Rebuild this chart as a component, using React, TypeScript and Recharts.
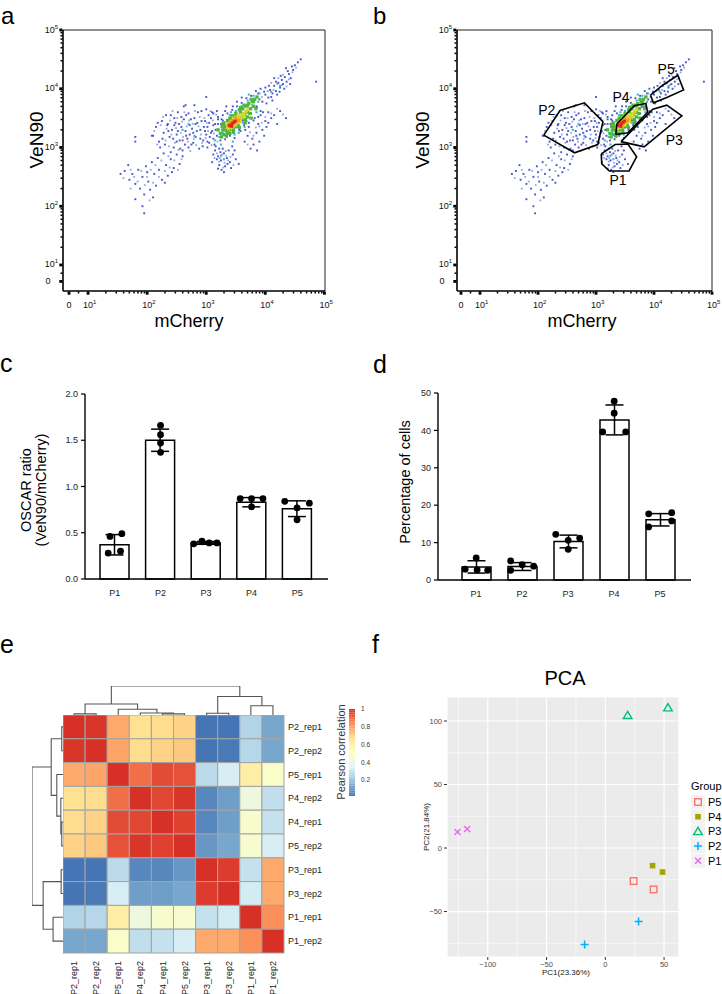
import React from "react";
import {
  ScatterChart,
  ComposedChart,
  Scatter,
  Bar,
  ErrorBar,
  XAxis,
  YAxis,
  CartesianGrid,
  ReferenceLine,
  ReferenceArea,
} from "recharts";

const FONT = "'Liberation Sans', Arial, Helvetica, sans-serif";

type Pt = [number, number];

// ---------- a / b : flow events (log10 fluorescence), grouped by density colour
const eventsBlue: Pt[] = [
  // upper-right tail
  [3.85, 3.7], [3.9, 3.82], [3.95, 3.78], [4.0, 3.9], [4.05, 3.85], [4.08, 3.98], [4.12, 3.92], [4.15, 4.05],
  [4.18, 3.96], [4.22, 4.1], [4.25, 4.02], [4.28, 4.15], [4.3, 4.08], [4.33, 4.2], [4.36, 4.12], [4.4, 4.25],
  [4.43, 4.18], [4.47, 4.32], [4.5, 4.4], [4.55, 4.45], [4.02, 3.75], [3.98, 3.95], [4.1, 3.86], [4.2, 3.9],
  [4.26, 4.22], [4.32, 4.0], [4.38, 4.3], [4.15, 4.18], [3.92, 3.62], [4.06, 4.05], [4.24, 3.95], [4.42, 4.08],
  [3.88, 3.92], [4.12, 3.8], [4.35, 4.35], [4.6, 4.5], [4.86, 4.12], [4.45, 4.38], [4.0, 4.02], [4.18, 4.12],
  // right, below the diagonal
  [3.7, 3.2], [3.78, 3.15], [3.85, 3.25], [3.9, 3.1], [3.8, 3.05], [3.95, 3.3], [3.72, 3.35], [3.88, 3.4],
  [4.0, 3.45], [3.65, 3.1], [3.75, 2.98], [3.92, 3.55], [4.05, 3.6], [3.82, 3.5], [3.98, 3.2], [4.1, 3.5],
  [3.68, 3.45], [3.86, 2.95], [4.02, 3.35], [3.76, 3.58], [4.15, 3.55], [4.25, 3.62], [4.35, 3.5], [4.05, 3.42],
  [4.2, 3.4],
  // small cluster below the core
  [3.15, 2.95], [3.2, 2.85], [3.25, 2.78], [3.3, 2.9], [3.35, 2.82], [3.22, 2.7], [3.28, 2.98], [3.4, 2.75],
  [3.18, 2.8], [3.32, 2.68], [3.45, 2.88], [3.12, 2.88], [3.38, 2.95], [3.26, 2.62], [3.42, 2.65], [3.5, 2.8],
  [3.1, 2.75], [3.24, 2.92], [3.36, 2.72], [3.3, 2.58], [3.48, 2.95], [3.16, 3.02], [3.55, 2.72], [3.2, 2.64],
  [3.44, 3.02],
  // left cloud
  [2.1, 3.2], [2.15, 3.35], [2.2, 3.1], [2.25, 3.45], [2.28, 3.25], [2.3, 3.05], [2.35, 3.4], [2.38, 3.18],
  [2.4, 3.55], [2.42, 3.3], [2.45, 3.0], [2.48, 3.42], [2.5, 3.22], [2.52, 3.6], [2.55, 3.12], [2.58, 3.35],
  [2.6, 2.95], [2.62, 3.48], [2.65, 3.28], [2.68, 3.15], [2.7, 3.58], [2.72, 3.38], [2.75, 3.05], [2.78, 3.25],
  [2.8, 3.5], [2.82, 3.18], [2.85, 3.42], [2.88, 2.98], [2.9, 3.3], [2.92, 3.62], [2.95, 3.12], [2.98, 3.45],
  [3.0, 3.22], [3.02, 3.35], [3.05, 3.08], [3.08, 3.5], [3.1, 3.28], [3.12, 3.15], [3.15, 3.4], [3.18, 3.2],
  [2.22, 3.0], [2.32, 3.55], [2.44, 3.15], [2.54, 3.4], [2.64, 3.05], [2.74, 3.48], [2.84, 3.28], [2.94, 3.02],
  [3.04, 3.55], [2.36, 3.28], [2.46, 3.5], [2.56, 2.98], [2.66, 3.2], [2.76, 3.32], [2.86, 3.6], [2.96, 3.35],
  [3.06, 3.18], [2.18, 3.42], [2.26, 3.15], [2.62, 3.7], [2.8, 3.72], [3.0, 3.65], [2.5, 3.1], [2.7, 3.0],
  [2.9, 3.15], [2.4, 2.92], [2.58, 3.52], [2.78, 3.08], [2.98, 3.28], [2.34, 3.38], [2.52, 3.28], [2.72, 3.22],
  [2.92, 3.45], [3.12, 3.58], [2.6, 3.12], [2.82, 3.4], [3.02, 3.1], [3.2, 3.48], [2.46, 3.38], [2.66, 3.55],
  [1.8, 3.18], [1.8, 3.1], [2.08, 3.2], [3.0, 3.86], [2.65, 3.72],
  // lower-left tail
  [1.55, 2.55], [1.62, 2.6], [1.7, 2.45], [1.75, 2.55], [1.8, 2.38], [1.85, 2.62], [1.88, 2.3], [1.92, 2.5],
  [1.95, 2.2], [1.98, 2.68], [2.02, 2.42], [2.05, 2.28], [2.08, 2.75], [2.12, 2.55], [2.15, 2.35], [2.18, 2.82],
  [2.2, 2.62], [2.25, 2.45], [2.28, 2.9], [2.32, 2.7], [2.35, 2.52], [2.4, 2.8], [2.45, 2.65], [2.5, 2.88],
  [2.55, 2.72], [2.6, 2.85], [1.92, 2.0], [1.8, 2.12], [1.95, 1.88], [2.1, 2.15], [2.0, 2.58], [2.3, 2.4],
  [1.68, 2.7], [2.42, 2.58],
  // between cloud and core
  [3.05, 3.42], [3.1, 3.6], [3.14, 3.05], [3.2, 3.52], [3.25, 3.4], [3.08, 3.25], [3.18, 3.62], [3.22, 2.98],
  [3.28, 3.55], [3.12, 3.38], [3.32, 3.62], [3.16, 3.3], [3.02, 3.0], [3.26, 3.48], [3.34, 3.7], [3.52, 3.78],
  [3.6, 3.85], [3.58, 3.28], [3.66, 3.3], [3.45, 3.7],
  // around the core
  [3.2, 3.4], [3.24, 3.12], [3.28, 3.46], [3.32, 3.14], [3.36, 3.58], [3.4, 3.2], [3.44, 3.64], [3.48, 3.16],
  [3.52, 3.7], [3.56, 3.3], [3.6, 3.76], [3.64, 3.38], [3.68, 3.84], [3.72, 3.42], [3.76, 3.88], [3.8, 3.46],
  [3.84, 3.96], [3.88, 3.52], [3.92, 4.0], [3.96, 3.6], [3.34, 3.32], [3.5, 3.34], [3.62, 3.46], [3.74, 3.66],
  [3.86, 3.68],
];

// faint (single) events
const eventsFaint: Pt[] = [
  [2.12, 3.28], [2.17, 3.05], [2.23, 3.38], [2.27, 3.52], [2.31, 3.12], [2.33, 3.32], [2.37, 3.02], [2.39, 3.46],
  [2.41, 3.22], [2.43, 3.62], [2.47, 3.08], [2.49, 3.33], [2.51, 3.5], [2.53, 2.96], [2.57, 3.25], [2.59, 3.44],
  [2.61, 3.18], [2.63, 3.6], [2.67, 3.36], [2.69, 3.1], [2.71, 3.46], [2.73, 2.94], [2.77, 3.4], [2.79, 3.15],
  [2.81, 3.62], [2.83, 3.04], [2.87, 3.36], [2.89, 3.52], [2.91, 3.22], [2.93, 3.08], [2.97, 3.5], [2.99, 3.16],
  [3.01, 3.42], [3.03, 3.28], [3.07, 3.62], [3.09, 3.04], [3.11, 3.46], [3.13, 3.24], [3.17, 3.56], [3.19, 3.1],
  [1.6, 2.48], [1.72, 2.62], [1.78, 2.5], [1.84, 2.42], [1.9, 2.6], [1.96, 2.36], [2.0, 2.5], [2.06, 2.62],
  [2.1, 2.4], [2.14, 2.7], [2.2, 2.5], [2.24, 2.78], [2.3, 2.6], [2.36, 2.85], [2.38, 2.66], [2.46, 2.78],
  [2.52, 2.62], [2.58, 2.8], [1.72, 2.3], [2.04, 2.1],
  [3.18, 2.9], [3.22, 2.76], [3.27, 2.88], [3.31, 2.74], [3.34, 2.86], [3.29, 2.66], [3.37, 2.78], [3.41, 2.84],
  [3.23, 2.82], [3.33, 2.94], [3.46, 2.7], [3.14, 2.82],
  [3.94, 3.86], [4.04, 3.96], [4.14, 3.98], [4.2, 4.08], [4.28, 4.06], [4.3, 4.24], [4.4, 4.16], [4.46, 4.28],
  [4.1, 4.1], [4.36, 4.04], [4.52, 4.36], [4.22, 4.18],
  [3.74, 3.26], [3.84, 3.34], [3.94, 3.42], [3.7, 3.05], [3.8, 3.2], [3.9, 3.36], [4.0, 3.52], [4.1, 3.58],
  [4.2, 3.66], [4.3, 3.56],
];

const eventsCyan: Pt[] = [
  [3.15, 3.12], [3.2, 3.3], [3.25, 3.05], [3.3, 3.4], [3.35, 3.18], [3.4, 3.55], [3.45, 3.1], [3.5, 3.62],
  [3.55, 3.25], [3.6, 3.7], [3.65, 3.35], [3.7, 3.8], [3.75, 3.5], [3.8, 3.88], [3.85, 3.6], [3.9, 3.92],
  [3.28, 3.25], [3.38, 3.45], [3.58, 3.52], [3.68, 3.62], [3.78, 3.72], [3.22, 3.18], [3.48, 3.22], [3.62, 3.42],
  [3.88, 3.78], [3.42, 3.6], [3.72, 3.9], [2.6, 3.3], [2.8, 3.2], [2.7, 3.4], [3.3, 2.8], [3.25, 2.86],
  [4.1, 3.95], [4.25, 4.05],
];

const eventsGreen: Pt[] = [
  [3.24, 3.24], [3.28, 3.3], [3.3, 3.22], [3.32, 3.36], [3.35, 3.28], [3.38, 3.4], [3.4, 3.3], [3.42, 3.48],
  [3.45, 3.36], [3.48, 3.52], [3.5, 3.4], [3.52, 3.56], [3.55, 3.46], [3.58, 3.6], [3.6, 3.5], [3.62, 3.66],
  [3.65, 3.56], [3.68, 3.7], [3.7, 3.6], [3.72, 3.75], [3.75, 3.66], [3.78, 3.78], [3.8, 3.7], [3.82, 3.82],
  [3.27, 3.36], [3.34, 3.2], [3.44, 3.54], [3.54, 3.38], [3.64, 3.72], [3.74, 3.58], [3.36, 3.46], [3.46, 3.3],
  [3.56, 3.64], [3.66, 3.48], [3.76, 3.82], [3.3, 3.3],
  [3.2, 3.3], [3.26, 3.18], [3.3, 3.42], [3.36, 3.24], [3.4, 3.5], [3.46, 3.26], [3.5, 3.58], [3.56, 3.34],
  [3.6, 3.66], [3.66, 3.42], [3.7, 3.72], [3.76, 3.5], [3.8, 3.78], [3.84, 3.66], [3.86, 3.86], [3.4, 3.24],
  [3.52, 3.36], [3.58, 3.68], [3.7, 3.52], [3.28, 3.4],
];

const eventsYellow: Pt[] = [
  [3.36, 3.34], [3.4, 3.38], [3.44, 3.36], [3.46, 3.44], [3.5, 3.46], [3.52, 3.42], [3.55, 3.52], [3.58, 3.5],
  [3.6, 3.56], [3.63, 3.58], [3.66, 3.6], [3.42, 3.44], [3.48, 3.4], [3.56, 3.48], [3.62, 3.52], [3.38, 3.32],
  [3.54, 3.56], [3.68, 3.62], [3.42, 3.34], [3.5, 3.38], [3.58, 3.44], [3.64, 3.54], [3.46, 3.5], [3.52, 3.52],
  [3.7, 3.66], [3.36, 3.4],
];

const eventsOrange: Pt[] = [[3.4, 3.42], [3.46, 3.4], [3.5, 3.5], [3.55, 3.47], [3.44, 3.46], [3.38, 3.36], [3.52, 3.44]];

const eventsRed: Pt[] = [[3.41, 3.37], [3.44, 3.41], [3.47, 3.43], [3.43, 3.36], [3.39, 3.38], [3.49, 3.45]];

// gates drawn on panel b (log10 units)
const gateP1: Pt[] = [[3.09, 2.89], [3.33, 3.05], [3.55, 3.06], [3.7, 2.84], [3.57, 2.6], [3.23, 2.6], [3.1, 2.72]];
const gateP2: Pt[] = [[2.1, 3.21], [2.38, 3.63], [2.8, 3.76], [3.12, 3.44], [3.03, 3.05], [2.63, 2.91]];
const gateP3: Pt[] = [[3.43, 3.1], [3.98, 3.65], [4.22, 3.72], [4.48, 3.54], [3.83, 3.01]];
const gateP4: Pt[] = [[3.34, 3.22], [3.36, 3.4], [3.66, 3.71], [3.86, 3.75], [3.89, 3.6], [3.55, 3.25]];
const gateP5: Pt[] = [[3.94, 3.89], [4.15, 4.06], [4.41, 4.23], [4.51, 3.98], [4.22, 3.85], [3.99, 3.76]];
const gateNames = ["P1", "P2", "P3", "P4", "P5"];
const gateLabelAt: Pt[] = [[3.38, 2.42], [2.15, 3.61], [4.35, 3.1], [3.43, 3.84], [4.21, 4.32]];

const decadeTicks = [1, 2, 3, 4, 5];
const minorMultipliers = [2, 3, 4, 5, 6, 7, 8, 9];

// ---------- c / d
const populations = ["P1", "P2", "P3", "P4", "P5"];
const ratioMean = [0.37, 1.5, 0.39, 0.83, 0.76];
const ratioSd = [0.11, 0.12, 0.015, 0.05, 0.085];
const ratioDots = [
  [0.46, 0.49, 0.28, 0.3],
  [1.66, 1.56, 1.47, 1.37],
  [0.38, 0.41, 0.39, 0.39],
  [0.87, 0.87, 0.87, 0.78],
  [0.84, 0.82, 0.77, 0.64],
];
const ratioJitter = [
  [-0.11, 0.15, -0.15, 0.12],
  [0, 0, 0, 0],
  [-0.27, -0.09, 0.07, 0.24],
  [-0.25, 0, 0.25, 0],
  [-0.27, 0.27, 0, 0],
];
const pctMean = [3.5, 3.6, 10.3, 42.8, 16.1];
const pctSd = [1.65, 1.05, 1.7, 4.0, 1.65];
const pctDots = [
  [2.9, 5.9, 2.7, 2.6],
  [5.1, 2.6, 4.1, 3.7],
  [12.2, 10.6, 11.2, 8.2],
  [47.8, 44.6, 39.6, 39.6],
  [17.7, 18.0, 14.2, 15.8],
];
const pctJitter = [
  [-0.24, 0, 0.02, 0.25],
  [-0.25, -0.25, 0, 0.25],
  [-0.27, 0, 0.25, 0],
  [0, 0, -0.25, 0.25],
  [-0.25, 0.25, -0.25, 0.25],
];

// ---------- e : Pearson correlation heatmap
const sampleNames = [
  "P2_rep1", "P2_rep2", "P5_rep1", "P4_rep2", "P4_rep1",
  "P5_rep2", "P3_rep1", "P3_rep2", "P1_rep1", "P1_rep2",
];
const corr = [
  [1, 0.99, 0.78, 0.67, 0.68, 0.7, 0.02, 0.02, 0.25, 0.13],
  [0.99, 1, 0.79, 0.68, 0.7, 0.72, 0.02, 0.03, 0.26, 0.13],
  [0.78, 0.79, 1, 0.89, 0.95, 0.94, 0.27, 0.33, 0.6, 0.48],
  [0.67, 0.68, 0.89, 1, 0.96, 0.99, 0.06, 0.11, 0.42, 0.28],
  [0.68, 0.7, 0.95, 0.96, 1, 0.97, 0.06, 0.11, 0.47, 0.29],
  [0.7, 0.72, 0.94, 0.99, 0.97, 1, 0.095, 0.13, 0.46, 0.33],
  [0.02, 0.02, 0.27, 0.06, 0.06, 0.095, 1, 0.98, 0.29, 0.78],
  [0.02, 0.03, 0.33, 0.11, 0.11, 0.13, 0.98, 1, 0.32, 0.78],
  [0.25, 0.26, 0.6, 0.42, 0.47, 0.46, 0.29, 0.32, 1, 0.83],
  [0.13, 0.13, 0.48, 0.28, 0.29, 0.33, 0.78, 0.78, 0.83, 1],
];
// hclust-style merges: negative = leaf (1-based), positive = earlier merge
const merges: [number, number, number][] = [
  [-1, -2, 0.04],
  [-5, -6, 0.04],
  [-4, 2, 0.07],
  [-3, 3, 0.2],
  [1, 4, 0.38],
  [-7, -8, 0.06],
  [-9, -10, 0.32],
  [6, 7, 0.64],
  [5, 8, 1.0],
];
const colorbarTicks = [0.2, 0.4, 0.6, 0.8, 1];
const heatPalette = ["#4575B4", "#91BFDB", "#E0F3F8", "#FFFFBF", "#FEE090", "#FC8D59", "#D73027"];
const HEAT_MIN = 0.02;

// ---------- f : PCA
const pcaGroups = ["P5", "P4", "P3", "P2", "P1"];
const pcaP5: Pt[] = [[24.1, -26], [41.1, -32.6]];
const pcaP4: Pt[] = [[40.2, -13.9], [48.7, -18.9]];
const pcaP3: Pt[] = [[19, 104.5], [53.3, 110.5]];
const pcaP2: Pt[] = [[28.3, -57.9], [-17.6, -76]];
const pcaP1: Pt[] = [[-125.8, 12.6], [-117.6, 15]];
const pcaMajorX = [-100, -50, 0, 50];
const pcaMajorY = [-50, 0, 50, 100];
const pcaMinorX = [-125, -75, -25, 25];
const pcaMinorY = [-75, -25, 25, 75];

// ---------- helpers
const toXY = (pts: Pt[]) => pts.map(([x, y]) => ({ x, y }));

function flowTicks(zero: number) {
  const out = [zero, zero + (1 - zero) / 2, ...decadeTicks];
  decadeTicks.slice(0, 4).forEach((d) => minorMultipliers.forEach((m) => out.push(d + Math.log10(m))));
  return out.sort((a, b) => a - b);
}

function hexRgb(h: string) {
  return [1, 3, 5].map((i) => parseInt(h.slice(i, i + 2), 16));
}
function heatColor(v: number) {
  const t = Math.max(0, Math.min(1, (v - HEAT_MIN) / (1 - HEAT_MIN)));
  const seg = t * (heatPalette.length - 1);
  const i = Math.min(Math.floor(seg), heatPalette.length - 2);
  const f = seg - i;
  const a = hexRgb(heatPalette[i]);
  const b = hexRgb(heatPalette[i + 1]);
  const c = a.map((av, k) => Math.round(av + (b[k] - av) * f));
  return `rgb(${c[0]},${c[1]},${c[2]})`;
}

const noShape = () => <g />;
const dotShape = (color: string, s: number, op = 1) => (p: any) => (
  <rect x={p.cx - s / 2} y={p.cy - s / 2} width={s} height={s} fill={color} fillOpacity={op} />
);

function FlowTick(props: any) {
  const { x, y, payload, orient, zero } = props;
  const v = Number(payload.value);
  const isZero = Math.abs(v - zero) < 1e-6;
  const isDecade = decadeTicks.includes(v);
  const major = isZero || isDecade;
  const len = major ? 3.2 : 2;
  const th = major ? 2.8 : 1.5;
  const txt = { fontFamily: FONT, fontSize: 9, fill: "#111" };
  if (orient === "bottom") {
    return (
      <g>
        <rect x={x - th / 2} y={y + 0.5} width={th} height={len} fill="#000" />
        {isDecade && (
          <text x={x - 5} y={y + 17} {...txt}>
            10<tspan dy={-4} fontSize={6}>{v}</tspan>
          </text>
        )}
        {isZero && (
          <text x={x} y={y + 17} textAnchor="middle" {...txt}>
            0
          </text>
        )}
      </g>
    );
  }
  return (
    <g>
      <rect x={x - len - 0.5} y={y - th / 2} width={len} height={th} fill="#000" />
      {isDecade && (
        <text x={x - 5} y={y + 2.5} textAnchor="end" {...txt}>
          10<tspan dy={-4} fontSize={6}>{v}</tspan>
        </text>
      )}
      {isZero && (
        <text x={x - 12.5} y={y + 3} textAnchor="end" {...txt}>
          0
        </text>
      )}
    </g>
  );
}

const Y_ZERO = 0.72;

function FlowPanel({
  left,
  width,
  yAxisWidth,
  rightMargin,
  xDomain,
  xZero,
  withGates,
}: {
  left: number;
  width: number;
  yAxisWidth: number;
  rightMargin: number;
  xDomain: [number, number];
  xZero: number;
  withGates: boolean;
}) {
  const gates = [gateP1, gateP2, gateP3, gateP4, gateP5];
  const labels = gateNames.map((name, i) => ({ x: gateLabelAt[i][0], y: gateLabelAt[i][1], name }));
  return (
    <div style={{ position: "absolute", left, top: 0 }}>
      <ScatterChart width={width} height={320} margin={{ top: 30, right: rightMargin, bottom: 0, left: 0 }}>
        <XAxis
          type="number"
          dataKey="x"
          domain={xDomain}
          allowDataOverflow
          ticks={flowTicks(xZero)}
          interval={0}
          tickSize={0}
          tickMargin={0}
          tickLine={false}
          height={29}
          axisLine={{ stroke: "#000", strokeWidth: 1.6 }}
          tick={<FlowTick orient="bottom" zero={xZero} />}
        />
        <YAxis
          type="number"
          dataKey="y"
          domain={[0.557, 5]}
          allowDataOverflow
          ticks={flowTicks(Y_ZERO)}
          interval={0}
          tickSize={0}
          tickMargin={0}
          tickLine={false}
          width={yAxisWidth}
          axisLine={{ stroke: "#000", strokeWidth: 1.6 }}
          tick={<FlowTick orient="left" zero={Y_ZERO} />}
        />
        <ReferenceLine y={5} stroke="#8f8f8f" strokeWidth={2} />
        <ReferenceLine x={xDomain[1]} stroke="#222" strokeWidth={1} />
        <Scatter data={toXY(eventsFaint)} shape={dotShape("#8f9ae0", 1.8, 0.9)} isAnimationActive={false} />
        <Scatter data={toXY(eventsBlue)} shape={dotShape("#3346c4", 1.9, 0.9)} isAnimationActive={false} />
        <Scatter data={toXY(eventsCyan)} shape={dotShape("#3fb6d6", 2.1)} isAnimationActive={false} />
        <Scatter data={toXY(eventsGreen)} shape={dotShape("#4fb43c", 3.3)} isAnimationActive={false} />
        <Scatter data={toXY(eventsYellow)} shape={dotShape("#d9d62a", 3)} isAnimationActive={false} />
        <Scatter data={toXY(eventsOrange)} shape={dotShape("#f29a22", 3)} isAnimationActive={false} />
        <Scatter data={toXY(eventsRed)} shape={dotShape("#e3241b", 3)} isAnimationActive={false} />
        {withGates &&
          gates.map((g, i) => (
            <Scatter
              key={gateNames[i]}
              data={toXY([...g, g[0]])}
              line={{ stroke: "#000", strokeWidth: 1.6 }}
              shape={noShape}
              isAnimationActive={false}
            />
          ))}
        {withGates && (
          <Scatter
            data={labels}
            isAnimationActive={false}
            shape={(p: any) => (
              <text x={p.cx} y={p.cy} textAnchor="middle" dominantBaseline="middle" fontFamily={FONT} fontSize={14} fill="#000">
                {p.payload.name}
              </text>
            )}
          />
        )}
      </ScatterChart>
    </div>
  );
}

function DotBarPanel({
  left,
  width,
  yAxisWidth,
  marginTop,
  marginRight,
  plotHeight,
  yDomain,
  yTicks,
  yFmt,
  xDomain,
  padding,
  means,
  sds,
  dots,
  jitter,
}: any) {
  const rows = populations.map((p, i) => ({ name: p, mean: means[i], sd: sds[i] }));
  const dotRows: { x: number; y: number }[] = [];
  dots.forEach((vals: number[], i: number) =>
    vals.forEach((v, k) => dotRows.push({ x: i + 1 + jitter[i][k], y: v }))
  );
  return (
    <div style={{ position: "absolute", left, top: 380 }}>
      <ComposedChart
        width={width}
        height={marginTop + plotHeight + 18}
        data={rows}
        margin={{ top: marginTop, right: marginRight, bottom: 0, left: 0 }}
      >
        <XAxis
          type="category"
          dataKey="name"
          padding={padding}
          interval={0}
          tickLine={false}
          tickSize={0}
          tickMargin={11}
          height={18}
          axisLine={{ stroke: "#000", strokeWidth: 1.4 }}
          tick={{ fontFamily: FONT, fontSize: 9, fill: "#222" }}
        />
        <XAxis xAxisId="n" type="number" dataKey="x" domain={xDomain} allowDataOverflow hide />
        <YAxis
          type="number"
          domain={yDomain}
          ticks={yTicks}
          interval={0}
          tickFormatter={yFmt}
          width={yAxisWidth}
          tickSize={4}
          tickMargin={3}
          axisLine={{ stroke: "#000", strokeWidth: 1.4 }}
          tickLine={{ stroke: "#000", strokeWidth: 1.2 }}
          tick={{ fontFamily: FONT, fontSize: 9, fill: "#222" }}
        />
        <Bar dataKey="mean" barSize={29} fill="#fff" stroke="#000" strokeWidth={1.5} isAnimationActive={false}>
          <ErrorBar dataKey="sd" width={9} stroke="#000" strokeWidth={1.5} direction="y" />
        </Bar>
        <Scatter
          xAxisId="n"
          data={dotRows}
          dataKey="y"
          isAnimationActive={false}
          shape={(p: any) => <circle cx={p.cx} cy={p.cy} r={3.4} fill="#000" />}
        />
      </ComposedChart>
    </div>
  );
}

// dendrogram geometry from the merge table
function dendroLinks() {
  const nodes: { c: number; h: number }[] = [];
  const get = (id: number) => (id < 0 ? { c: -id - 0.5, h: 0 } : nodes[id - 1]);
  return merges.map(([a, b, h]) => {
    const A = get(a);
    const B = get(b);
    nodes.push({ c: (A.c + B.c) / 2, h });
    return [
      { c: A.c, h: A.h },
      { c: A.c, h },
      { c: B.c, h },
      { c: B.c, h: B.h },
    ];
  });
}

function ColTick(props: any) {
  const { x, y, payload } = props;
  return (
    <text
      x={x}
      y={y}
      dy="0.35em"
      textAnchor="end"
      transform={`rotate(-90 ${x} ${y})`}
      fontFamily={FONT}
      fontSize={9}
      fill="#222"
    >
      {sampleNames[Math.floor(payload.value)]}
    </text>
  );
}

function HeatmapPanel() {
  const centers = sampleNames.map((_, i) => i + 0.5);
  const links = dendroLinks();
  const ramp: number[] = [];
  for (let v = HEAT_MIN; v < 1; v += 0.02) ramp.push(v);
  return (
    <>
      {/* column dendrogram */}
      <div style={{ position: "absolute", left: 63, top: 686 }}>
        <ComposedChart width={221} height={29} margin={{ top: 0, right: 0, bottom: 0, left: 0 }}>
          <XAxis type="number" dataKey="x" domain={[0, 10]} hide />
          <YAxis type="number" dataKey="y" domain={[0, 1]} hide />
          {links.map((l, i) => (
            <Scatter
              key={i}
              data={l.map((p) => ({ x: p.c, y: p.h }))}
              line={{ stroke: "#555", strokeWidth: 1.1 }}
              shape={noShape}
              isAnimationActive={false}
            />
          ))}
        </ComposedChart>
      </div>
      {/* row dendrogram */}
      <div style={{ position: "absolute", left: 32, top: 715 }}>
        <ComposedChart width={31} height={238} margin={{ top: 0, right: 0, bottom: 0, left: 0 }}>
          <XAxis type="number" dataKey="x" domain={[0, 1]} reversed hide />
          <YAxis type="number" dataKey="y" domain={[0, 10]} reversed hide />
          {links.map((l, i) => (
            <Scatter
              key={i}
              data={l.map((p) => ({ x: p.h, y: p.c }))}
              line={{ stroke: "#555", strokeWidth: 1.1 }}
              shape={noShape}
              isAnimationActive={false}
            />
          ))}
        </ComposedChart>
      </div>
      {/* heatmap cells */}
      <div style={{ position: "absolute", left: 63, top: 715 }}>
        <ComposedChart width={276} height={279} margin={{ top: 0, right: 0, bottom: 0, left: 0 }}>
          <XAxis
            type="number"
            dataKey="x"
            domain={[0, 10]}
            ticks={centers}
            interval={0}
            tickLine={false}
            axisLine={false}
            tickSize={6}
            tickMargin={2}
            height={41}
            tick={<ColTick />}
          />
          <YAxis
            type="number"
            dataKey="y"
            domain={[0, 10]}
            reversed
            orientation="right"
            ticks={centers}
            interval={0}
            tickLine={false}
            axisLine={false}
            tickSize={0}
            tickMargin={4}
            width={55}
            tickFormatter={(v: number) => sampleNames[Math.floor(v)]}
            tick={{ fontFamily: FONT, fontSize: 9, fill: "#222" }}
          />
          {corr.map((row, r) =>
            row.map((v, c) => (
              <ReferenceArea
                key={`${r}-${c}`}
                x1={c}
                x2={c + 1}
                y1={r}
                y2={r + 1}
                fill={heatColor(v)}
                fillOpacity={1}
                stroke="#a3a3a3"
                strokeWidth={1}
                ifOverflow="visible"
              />
            ))
          )}
          <Scatter data={centers.map((c) => ({ x: c, y: c }))} shape={noShape} isAnimationActive={false} />
        </ComposedChart>
      </div>
      {/* colour bar */}
      <div style={{ position: "absolute", left: 349, top: 703 }}>
        <ComposedChart width={44} height={99} margin={{ top: 6, right: 0, bottom: 6, left: 0 }}>
          <XAxis type="number" dataKey="x" domain={[0, 1]} hide />
          <YAxis
            type="number"
            dataKey="y"
            domain={[HEAT_MIN, 1]}
            orientation="right"
            ticks={colorbarTicks}
            interval={0}
            tickLine={false}
            axisLine={false}
            tickSize={0}
            tickMargin={6}
            width={38}
            tick={{ fontFamily: FONT, fontSize: 6.5, fill: "#333" }}
          />
          {ramp.map((v) => (
            <ReferenceArea
              key={v}
              x1={0}
              x2={1}
              y1={v}
              y2={Math.min(1, v + 0.021)}
              fill={heatColor(v + 0.01)}
              fillOpacity={1}
              stroke="none"
            />
          ))}
          <Scatter data={[{ x: 0.5, y: 0.5 }]} shape={noShape} isAnimationActive={false} />
        </ComposedChart>
      </div>
    </>
  );
}

// PCA symbols
const pcaColors: Record<string, string> = {
  P5: "#F8766D",
  P4: "#A3A500",
  P3: "#00BF7D",
  P2: "#00B0F6",
  P1: "#E76BF3",
};
function pcaSymbol(g: string, cx: number, cy: number) {
  const c = pcaColors[g];
  if (g === "P5")
    return <rect x={cx - 3.3} y={cy - 3.3} width={6.6} height={6.6} fill="none" stroke={c} strokeWidth={1.4} />;
  if (g === "P4") return <rect x={cx - 2.8} y={cy - 2.8} width={5.6} height={5.6} fill={c} />;
  if (g === "P3")
    return (
      <path d={`M${cx},${cy - 4} L${cx + 4.3},${cy + 3.2} L${cx - 4.3},${cy + 3.2} Z`} fill="none" stroke={c} strokeWidth={1.4} />
    );
  if (g === "P2")
    return (
      <path d={`M${cx - 4},${cy} L${cx + 4},${cy} M${cx},${cy - 4} L${cx},${cy + 4}`} stroke={c} strokeWidth={1.5} />
    );
  return (
    <path d={`M${cx - 3},${cy - 3} L${cx + 3},${cy + 3} M${cx - 3},${cy + 3} L${cx + 3},${cy - 3}`} stroke={c} strokeWidth={1.5} />
  );
}

const minusFmt = (v: number) => (v < 0 ? `\u2212${Math.abs(v)}` : `${v}`);

function PcaPanel() {
  const series: [string, Pt[]][] = [
    ["P5", pcaP5],
    ["P4", pcaP4],
    ["P3", pcaP3],
    ["P2", pcaP2],
    ["P1", pcaP1],
  ];
  return (
    <div style={{ position: "absolute", left: 400, top: 697 }}>
      <ScatterChart width={279} height={280} margin={{ top: 0, right: 0, bottom: 0, left: 0 }}>
        <CartesianGrid fill="#EBEBEB" stroke="#fff" strokeWidth={1.2} strokeDasharray="0" />
        <XAxis
          type="number"
          dataKey="x"
          domain={[-134.7, 62.7]}
          ticks={pcaMajorX}
          interval={0}
          allowDataOverflow
          axisLine={false}
          tickSize={3}
          tickMargin={2}
          height={20}
          tickLine={{ stroke: "#333", strokeWidth: 1 }}
          tickFormatter={minusFmt}
          tick={{ fontFamily: FONT, fontSize: 7.5, fill: "#4D4D4D" }}
        />
        <YAxis
          type="number"
          dataKey="y"
          domain={[-85.8, 118.9]}
          ticks={pcaMajorY}
          interval={0}
          allowDataOverflow
          axisLine={false}
          tickSize={3}
          tickMargin={2}
          width={47}
          tickLine={{ stroke: "#333", strokeWidth: 1 }}
          tickFormatter={minusFmt}
          tick={{ fontFamily: FONT, fontSize: 7.5, fill: "#4D4D4D" }}
        />
        {pcaMinorX.map((v) => (
          <ReferenceLine key={`mx${v}`} x={v} stroke="#fff" strokeWidth={0.6} />
        ))}
        {pcaMinorY.map((v) => (
          <ReferenceLine key={`my${v}`} y={v} stroke="#fff" strokeWidth={0.6} />
        ))}
        {series.map(([g, pts]) => (
          <Scatter
            key={g}
            data={toXY(pts)}
            isAnimationActive={false}
            shape={(p: any) => pcaSymbol(g, p.cx, p.cy)}
          />
        ))}
      </ScatterChart>
    </div>
  );
}

export default function App() {
  const T = { fontFamily: FONT, fill: "#000" };
  return (
    <div
      style={{
        position: "absolute",
        left: 0,
        top: 0,
        width: 722,
        height: 994,
        background: "#fff",
        overflow: "hidden",
        fontFamily: FONT,
      }}
    >
      <FlowPanel left={0} width={340} yAxisWidth={63} rightMargin={15} xDomain={[0.576, 5.01]} xZero={0.678} withGates={false} />
      <FlowPanel left={361} width={361} yAxisWidth={96} rightMargin={10} xDomain={[0.603, 5.0]} xZero={0.672} withGates />

      <DotBarPanel
        left={0}
        width={340}
        yAxisWidth={85}
        marginTop={14}
        marginRight={12}
        plotHeight={185}
        yDomain={[0, 2]}
        yTicks={[0, 0.5, 1, 1.5, 2]}
        yFmt={(v: number) => v.toFixed(1)}
        xDomain={[0.34, 5.68]}
        padding={{ left: 7, right: 8 }}
        means={ratioMean}
        sds={ratioSd}
        dots={ratioDots}
        jitter={ratioJitter}
      />
      <DotBarPanel
        left={361}
        width={340}
        yAxisWidth={77}
        marginTop={13}
        marginRight={10}
        plotHeight={187}
        yDomain={[0, 50]}
        yTicks={[0, 10, 20, 30, 40, 50]}
        yFmt={(v: number) => `${v}`}
        xDomain={[0.17, 5.67]}
        padding={{ left: 15, right: 8 }}
        means={pctMean}
        sds={pctSd}
        dots={pctDots}
        jitter={pctJitter}
      />

      <HeatmapPanel />
      <PcaPanel />

      <svg width={722} height={994} style={{ position: "absolute", left: 0, top: 0, pointerEvents: "none" }}>
        {/* panel letters */}
        <text x={1} y={24} fontSize={24} {...T}>a</text>
        <text x={373} y={24} fontSize={24} {...T}>b</text>
        <text x={0} y={372} fontSize={25} {...T}>c</text>
        <text x={373} y={373} fontSize={25} {...T}>d</text>
        <text x={0} y={653} fontSize={25} {...T}>e</text>
        <text x={372} y={653} fontSize={25} {...T}>f</text>

        {/* a / b axis titles */}
        <text x={43} y={140} fontSize={19} textAnchor="middle" transform="rotate(-90 43 140)" {...T}>VeN90</text>
        <text x={429} y={140} fontSize={19} textAnchor="middle" transform="rotate(-90 429 140)" {...T}>VeN90</text>
        <text x={189} y={327} fontSize={18} textAnchor="middle" {...T}>mCherry</text>
        <text x={582} y={327} fontSize={18} textAnchor="middle" {...T}>mCherry</text>

        {/* c / d axis titles */}
        <text x={31} y={490} fontSize={14.5} textAnchor="middle" transform="rotate(-90 31 490)" {...T}>OSCAR ratio</text>
        <text x={46} y={490} fontSize={14.5} textAnchor="middle" transform="rotate(-90 46 490)" {...T}>(VeN90/mCherry)</text>
        <text x={410} y={482} fontSize={14.5} textAnchor="middle" transform="rotate(-90 410 482)" {...T}>Percentage of cells</text>

        {/* e colour bar title */}
        <text x={345} y={752} fontSize={11} textAnchor="middle" transform="rotate(-90 345 752)" fill="#333" fontFamily={FONT}>
          Pearson correlation
        </text>

        {/* f titles and legend */}
        <text x={565} y={685} fontSize={20} textAnchor="middle" {...T}>PCA</text>
        <text x={566} y={975} fontSize={8} textAnchor="middle" fill="#222" fontFamily={FONT}>PC1(23.36%)</text>
        <text x={429} y={827} fontSize={8} textAnchor="middle" transform="rotate(-90 429 827)" fill="#222" fontFamily={FONT}>
          PC2(21.84%)
        </text>
        <text x={691} y={790} fontSize={11} {...T}>Group</text>
        {pcaGroups.map((g, i) => {
          const cy = 802 + i * 14.7;
          return (
            <g key={g}>
              <rect x={691} y={cy - 7} width={14} height={14} fill="#F2F2F2" />
              {pcaSymbol(g, 698, cy)}
              <text x={708} y={cy + 4} fontSize={11} {...T}>{g}</text>
            </g>
          );
        })}
      </svg>
    </div>
  );
}
